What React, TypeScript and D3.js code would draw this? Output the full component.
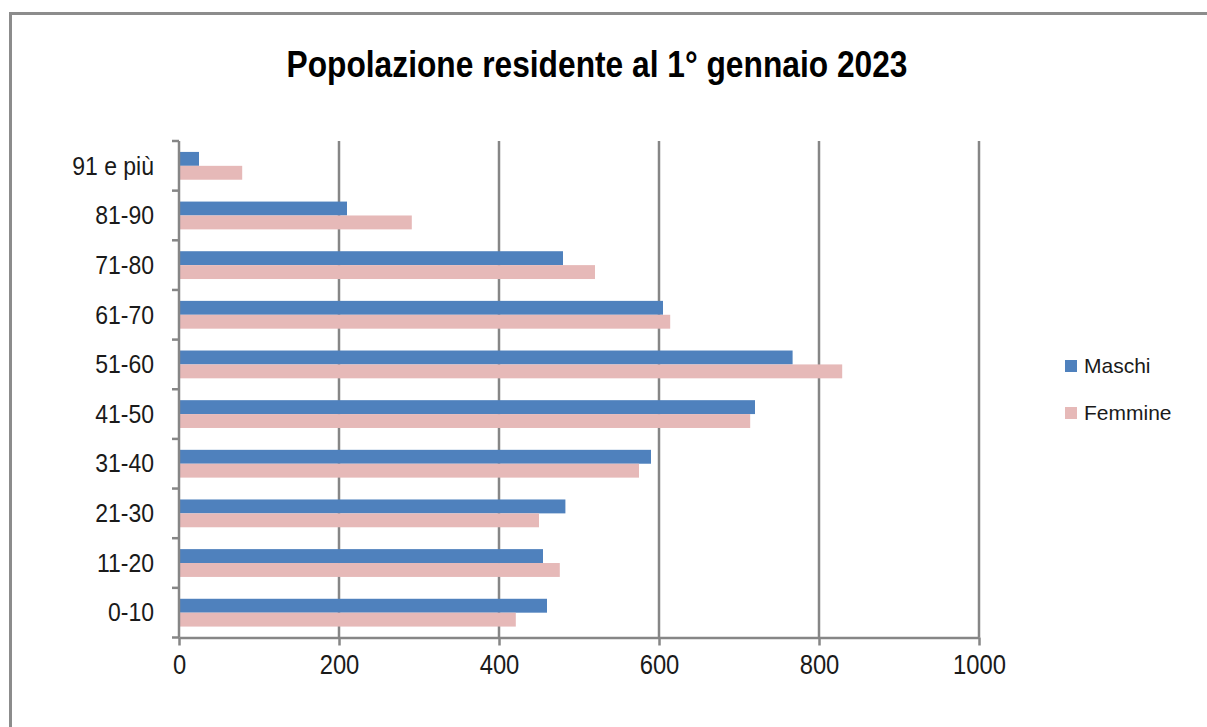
import React, { useEffect, useRef } from 'react';
import * as d3 from 'd3';

const categories = ['0-10', '11-20', '21-30', '31-40', '41-50', '51-60', '61-70', '71-80', '81-90', '91 e più'];
const maschi = [460, 455, 483, 590, 720, 767, 605, 480, 210, 25];
const femmine = [421, 476, 450, 575, 714, 829, 614, 520, 291, 79];
const seriesNames = ['Maschi', 'Femmine'];
const xTicks = [0, 200, 400, 600, 800, 1000];
const title = 'Popolazione residente al 1° gennaio 2023';

const colors = ['#4F81BD', '#E6B9B8'];
const font = 'Liberation Sans, Arial, sans-serif';

function App() {
  const ref = useRef<SVGSVGElement>(null);

  useEffect(() => {
    const width = 1207;
    const height = 727;
    const margin = { top: 141, left: 179, right: 228, bottom: 90 };

    const svg = d3.select(ref.current);
    svg.selectAll('*').remove();
    svg.attr('width', width).attr('height', height);

    svg.append('rect').attr('width', width).attr('height', height).attr('fill', '#fff');

    // chart frame (only top and left are visible in the picture)
    svg.append('path')
      .attr('d', `M10.5,${height} V13.5 H${width}`)
      .attr('fill', 'none')
      .attr('stroke', '#8c8c8c')
      .attr('stroke-width', 3);

    // the original uses a condensed face, squeeze the text to match
    svg.append('text')
      .attr('x', 597)
      .attr('y', 77)
      .attr('text-anchor', 'middle')
      .attr('font-family', font)
      .attr('font-weight', 'bold')
      .attr('font-size', 36)
      .attr('textLength', 621)
      .attr('lengthAdjust', 'spacingAndGlyphs')
      .attr('fill', '#000')
      .text(title);

    const plotBottom = height - margin.bottom + 0.5;
    const x = d3.scaleLinear().domain([0, 1000]).range([margin.left, width - margin.right]);
    const y = d3.scaleBand()
      .domain(categories)
      .range([plotBottom, margin.top])
      .paddingInner(0.44)
      .paddingOuter(0.22);
    const ySub = d3.scaleBand().domain(seriesNames).range([0, y.bandwidth()]);

    // vertical gridlines
    svg.append('g')
      .selectAll('line')
      .data(xTicks.filter((t) => t > 0))
      .join('line')
      .attr('x1', (d) => x(d))
      .attr('x2', (d) => x(d))
      .attr('y1', margin.top)
      .attr('y2', plotBottom)
      .attr('stroke', '#868686')
      .attr('stroke-width', 2.5);

    const values = [maschi, femmine];
    seriesNames.forEach((name, si) => {
      svg.append('g')
        .selectAll('rect')
        .data(categories)
        .join('rect')
        .attr('x', x(0))
        .attr('y', (d) => (y(d) as number) + (ySub(name) as number))
        .attr('width', (d, i) => x(values[si][i]) - x(0))
        .attr('height', ySub.bandwidth())
        .attr('fill', colors[si]);
    });

    // y axis with ticks at category boundaries
    const yAxis = svg.append('g');
    yAxis.append('line')
      .attr('x1', x(0)).attr('x2', x(0))
      .attr('y1', margin.top).attr('y2', plotBottom)
      .attr('stroke', '#868686').attr('stroke-width', 2.5);
    const rowH = (plotBottom - margin.top) / categories.length;
    yAxis.selectAll('line.tick')
      .data(d3.range(categories.length + 1))
      .join('line')
      .attr('class', 'tick')
      .attr('x1', x(0) - 7).attr('x2', x(0))
      .attr('y1', (i) => plotBottom - i * rowH)
      .attr('y2', (i) => plotBottom - i * rowH)
      .attr('stroke', '#868686').attr('stroke-width', 2.5);
    yAxis.selectAll('text')
      .data(categories)
      .join('text')
      .attr('transform', (d) => `translate(154,${(y(d) as number) + y.bandwidth() / 2}) scale(0.92,1)`)
      .attr('dy', '0.35em')
      .attr('text-anchor', 'end')
      .attr('font-family', font)
      .attr('font-size', 25)
      .attr('fill', '#1a1a1a')
      .text((d) => d);

    // x axis
    const xAxis = svg.append('g')
      .attr('transform', `translate(0,${plotBottom})`)
      .call(d3.axisBottom(x).tickValues(xTicks).tickSize(8).tickSizeOuter(0).tickFormat(d3.format('d')));
    xAxis.select('.domain').attr('stroke', '#868686').attr('stroke-width', 2.5);
    xAxis.selectAll('.tick line').attr('stroke', '#868686').attr('stroke-width', 2.5);
    xAxis.selectAll('.tick text')
      .attr('y', 17)
      .attr('transform', 'scale(0.85,1)')
      .attr('font-family', font)
      .attr('font-size', 28)
      .attr('fill', '#1a1a1a');

    // legend
    const legend = svg.append('g');
    seriesNames.forEach((name, i) => {
      const ly = 360 + i * 47;
      legend.append('rect')
        .attr('x', 1065).attr('y', ly)
        .attr('width', 12).attr('height', 12)
        .attr('fill', colors[i]);
      legend.append('text')
        .attr('x', 1084).attr('y', ly + 6)
        .attr('dy', '0.35em')
        .attr('font-family', font)
        .attr('font-size', 21)
        .attr('fill', '#1a1a1a')
        .text(name);
    });
  }, []);

  return (
    <svg ref={ref} style={{ position: 'absolute', left: 0, top: 0, display: 'block' }}></svg>
  );
}

export default App;
